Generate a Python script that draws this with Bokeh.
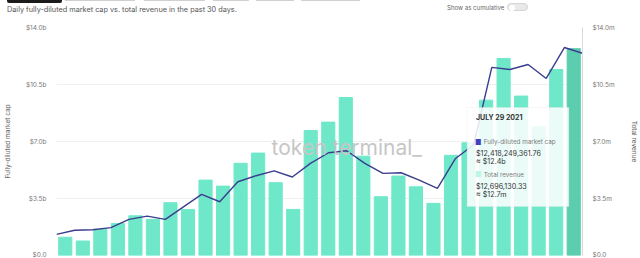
from bokeh.plotting import figure
from bokeh.models import Range1d, LinearAxis, FixedTicker, Label, BoxAnnotation, ColumnDataSource, Div
from bokeh.layouts import column
from bokeh.embed import file_html
from bokeh.resources import INLINE
import datetime as dt

# ---- data -------------------------------------------------------------
end_date = dt.date(2021, 7, 29)
dates = [end_date - dt.timedelta(days=29 - i) for i in range(30)]
revenue_m = [1.12, 0.89, 1.61, 1.97, 2.44, 2.22, 3.24, 2.83, 4.63, 4.26,
             5.66, 6.29, 4.47, 2.83, 7.68, 8.19, 9.70, 6.10, 3.61, 4.88,
             4.22, 3.20, 6.15, 6.92, 9.54, 12.10, 9.79, 7.90, 11.42, 12.70]
mcap_b = [1.30, 1.55, 1.58, 1.71, 2.22, 2.42, 2.22, 2.99, 3.75, 3.30,
          4.53, 4.90, 5.20, 4.82, 5.66, 6.31, 6.43, 5.66, 5.04, 5.08,
          4.63, 4.12, 5.96, 6.80, 11.55, 11.42, 11.73, 10.87, 12.77, 12.42]
tick_values = [0, 3.5, 7, 10.5, 14]
left_tick_labels = ["$0.0", "$3.5b", "$7.0b", "$10.5b", "$14.0b"]
right_tick_labels = ["$0.0", "$3.5m", "$7.0m", "$10.5m", "$14.0m"]
tooltip_date = "JULY 29 2021"
tooltip_mcap_exact = "$12,418,249,361.76"
tooltip_mcap_short = "\u2248 $12.4b"
tooltip_rev_exact = "$12,696,130.33"
tooltip_rev_short = "\u2248 $12.7m"
title_text = "Daily fully-diluted market cap vs. total revenue in the past 30 days."
toggle_text = "Show as cumulative"

# ---- style ------------------------------------------------------------
BAR = "#6fe8ca"
BAR_HL = "#5ccdae"
LINE = "#3b3d8e"
FONT = "Inter"
W = 640
HEAD_H = 23
H = 258 - HEAD_H
FL, FR, FT, FB = 52, 590, 4, 3  # frame borders inside the figure (px)

# ---- header (HTML) ----------------------------------------------------
btns = [(7, 55, True), (64, 74, False), (143, 65, False), (212, 40, False),
        (255, 42, False), (300, 63, False)]
btn_html = ""
for left_px, w_px, dark in btns:
    if dark:
        btn_html += (f'<div style="position:absolute;left:{left_px}px;top:-7px;width:{w_px}px;'
                     f'height:10px;background:#1b1b1b;border-radius:2px;"></div>')
    else:
        btn_html += (f'<div style="position:absolute;left:{left_px}px;top:-7px;width:{w_px-2}px;'
                     f'height:8px;border:1px solid #cfcfcf;border-radius:2px;background:#fff;"></div>')
header_html = (
    f'<div style="position:relative;width:{W}px;height:{HEAD_H}px;overflow:hidden;'
    f'font-family:{FONT},sans-serif;background:#fff;">'
    + btn_html +
    f'<div style="position:absolute;left:7px;top:5.5px;font-size:7.3px;line-height:8px;'
    f'color:#555;white-space:nowrap;">{title_text}</div>'
    f'<div style="position:absolute;left:447px;top:4px;font-size:6.1px;line-height:8px;'
    f'color:#666;white-space:nowrap;">{toggle_text}</div>'
    f'<div style="position:absolute;left:507px;top:3px;width:21px;height:8px;border-radius:5px;'
    f'background:#e9e9e9;border:1px solid #d6d6d6;">'
    f'<div style="position:absolute;left:1px;top:1px;width:6px;height:6px;border-radius:50%;'
    f'background:#fff;"></div></div>'
    '</div>'
)
header = Div(text=header_html, width=W, height=HEAD_H, margin=0)

# ---- figure -----------------------------------------------------------
n = len(revenue_m)
bar_x = [i + 0.5 for i in range(n)]
line_x = [i * n / (n - 1) for i in range(n)]
colors = [BAR] * (n - 1) + [BAR_HL]

p = figure(width=W, height=H, output_backend="svg", toolbar_location=None,
           x_range=Range1d(0, n), y_range=Range1d(0, 14),
           x_axis_location=None, y_axis_location=None,
           min_border_left=FL, min_border_right=W - FR,
           min_border_top=FT, min_border_bottom=FB, margin=0)
p.outline_line_color = None
p.background_fill_color = "white"
p.border_fill_color = "white"
p.extra_y_ranges = {"rev": Range1d(0, 14)}

left = LinearAxis(ticker=FixedTicker(ticks=tick_values),
                  major_label_overrides=dict(zip(tick_values, left_tick_labels)),
                  axis_label="Fully-diluted market cap")
right = LinearAxis(y_range_name="rev", ticker=FixedTicker(ticks=tick_values),
                   major_label_overrides=dict(zip(tick_values, right_tick_labels)),
                   axis_label="Total revenue")
for ax in (left, right):
    ax.major_tick_line_color = None
    ax.minor_tick_line_color = None
    ax.major_label_text_font = FONT
    ax.major_label_text_font_size = "6.5px"
    ax.major_label_text_color = "#7a7a7a"
    ax.axis_label_text_font = FONT
    ax.axis_label_text_font_size = "6.5px"
    ax.axis_label_text_font_style = "normal"
    ax.axis_label_text_color = "#666666"
    ax.major_label_standoff = 4
left.axis_line_color = None
left.axis_label_standoff = 11
right.axis_line_color = "#d9d9d9"
right.axis_label_standoff = 12
p.add_layout(left, "left")
p.add_layout(right, "right")

p.ygrid.ticker = FixedTicker(ticks=tick_values)
p.xgrid.visible = False
p.ygrid.grid_line_color = "#f0f0f0"

# helpers: page pixel -> data
def dx(px):
    return (px - FL) / (FR - FL) * n

def dy(py):
    py_fig = py - HEAD_H
    return (H - FB - py_fig) / (H - FB - FT) * 14

# watermark
p.add_layout(Label(x=dx(272), y=dy(147), text="token terminal_", text_font=FONT,
                   text_font_size="21px", text_color="#c6c6c6",
                   text_baseline="alphabetic"))

src = ColumnDataSource(dict(x=bar_x, lx=line_x, rev=revenue_m, mcap=mcap_b, c=colors,
                            d=[d.isoformat() for d in dates]))
p.vbar(x="x", top="rev", width=0.75, color="c", source=src, y_range_name="rev")
p.line(x="lx", y="mcap", color=LINE, line_width=1.4, source=src)

# tooltip box
p.add_layout(BoxAnnotation(left=dx(472), right=dx(576), bottom=dy(206), top=dy(107),
                           fill_color="white", fill_alpha=0.86,
                           line_color="#e6e6e6", line_width=1))

def lab(px, py, text, size="7px", color="#333333", style="normal"):
    p.add_layout(Label(x=dx(px), y=dy(py), text=text, text_font=FONT,
                       text_font_size=size, text_color=color, text_font_style=style,
                       text_baseline="middle"))

lab(481, 117, tooltip_date, size="7px", color="#333333", style="bold")
lab(480, 141.5, "\u25a0", size="7px", color="#3f3fbf")
lab(489, 141.5, "Fully-diluted market cap", size="6.3px", color="#7a7a7a")
lab(481, 153, tooltip_mcap_exact, size="7.2px", color="#333333")
lab(481, 160.5, tooltip_mcap_short, size="7.2px", color="#333333")
lab(480, 174, "\u25a0", size="7px", color="#bdf5e6")
lab(489, 174, "Total revenue", size="6.3px", color="#7a7a7a")
lab(481, 186, tooltip_rev_exact, size="7.2px", color="#333333")
lab(481, 193.5, tooltip_rev_short, size="7.2px", color="#333333")

layout = column(header, p, spacing=0, margin=0)
open("out.html", "w").write(file_html(layout, INLINE))
